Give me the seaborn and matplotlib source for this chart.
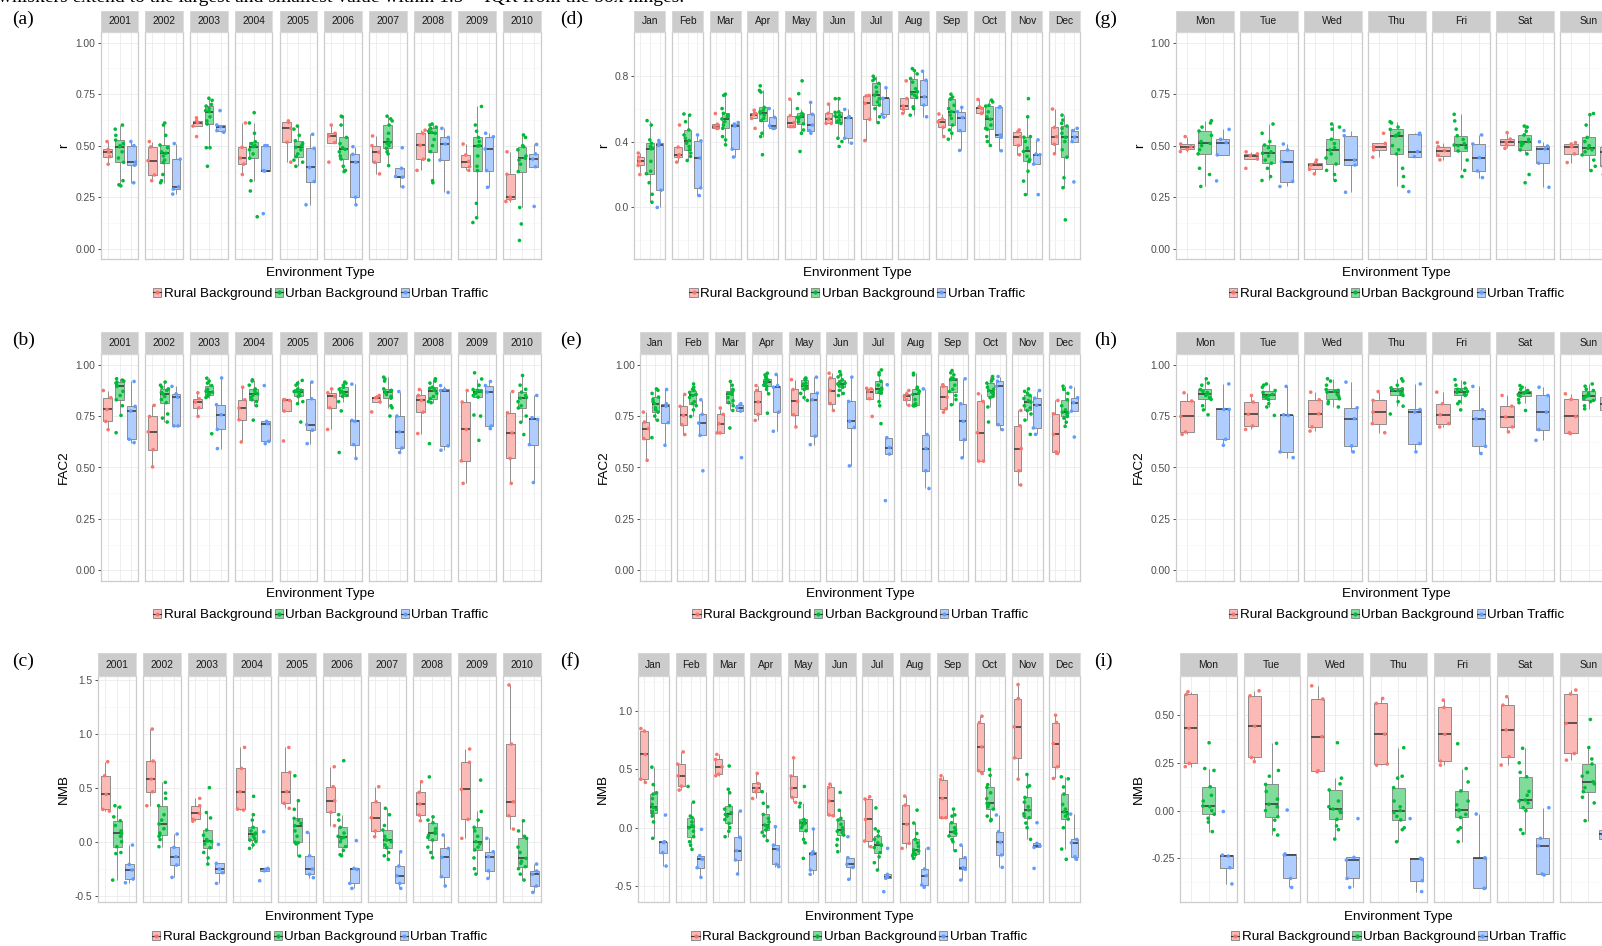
import numpy as np
import pandas as pd
import matplotlib
matplotlib.use("Agg")
import matplotlib.pyplot as plt
from matplotlib.patches import Patch
from matplotlib.lines import Line2D
from matplotlib.legend_handler import HandlerTuple
import seaborn as sns

plt.rcParams["font.family"] = ["Liberation Sans", "DejaVu Sans"]

W, H = 1602, 946

ENV = ["Rural Background", "Urban Background", "Urban Traffic"]
POINT_COLORS = ["#F8766D", "#00BA38", "#619CFF"]
FILL_COLORS = ["#FBBAB6", "#80DC9B", "#B0CDFF"]

YEARS = [str(y) for y in range(2001, 2011)]
MONTHS = ["Jan", "Feb", "Mar", "Apr", "May", "Jun",
          "Jul", "Aug", "Sep", "Oct", "Nov", "Dec"]
DAYS = ["Mon", "Tue", "Wed", "Thu", "Fri", "Sat", "Sun"]

CAPTION = "whiskers extend to the largest and smallest value within 1.5 \u00d7 IQR from the box hinges."

# ---------------- correlation coefficient r, by year ----------------
r_year_rural = [
    [0.41, 0.447, 0.468, 0.482, 0.52], [0.33, 0.358, 0.427, 0.494, 0.52],
    [0.544, 0.595, 0.611, 0.621, 0.635], [0.36, 0.411, 0.44, 0.492, 0.61],
    [0.42, 0.516, 0.584, 0.613, 0.62], [0.42, 0.515, 0.547, 0.56, 0.60],
    [0.363, 0.419, 0.468, 0.50, 0.547], [0.38, 0.434, 0.502, 0.56, 0.575],
    [0.38, 0.398, 0.423, 0.455, 0.508], [0.229, 0.24, 0.25, 0.361, 0.47],
]
r_year_urban = [
    [0.305, 0.31, 0.33, 0.419, 0.44, 0.47, 0.495, 0.50, 0.51, 0.527, 0.55, 0.58, 0.60],
    [0.32, 0.33, 0.36, 0.418, 0.43, 0.45, 0.463, 0.47, 0.49, 0.503, 0.55, 0.60, 0.61],
    [0.40, 0.49, 0.49, 0.605, 0.62, 0.64, 0.665, 0.67, 0.68, 0.692, 0.70, 0.72, 0.73],
    [0.155, 0.28, 0.33, 0.439, 0.46, 0.48, 0.495, 0.50, 0.51, 0.519, 0.56, 0.61, 0.66],
    [0.40, 0.42, 0.43, 0.447, 0.46, 0.48, 0.492, 0.50, 0.51, 0.524, 0.55, 0.58, 0.595],
    [0.374, 0.38, 0.40, 0.435, 0.45, 0.47, 0.482, 0.49, 0.51, 0.54, 0.60, 0.64, 0.643],
    [0.403, 0.46, 0.47, 0.487, 0.50, 0.51, 0.516, 0.53, 0.56, 0.60, 0.62, 0.63, 0.643],
    [0.32, 0.33, 0.43, 0.471, 0.50, 0.53, 0.56, 0.565, 0.57, 0.584, 0.59, 0.60, 0.605],
    [0.127, 0.15, 0.22, 0.379, 0.40, 0.45, 0.498, 0.50, 0.52, 0.54, 0.57, 0.60, 0.69],
    [0.04, 0.12, 0.20, 0.374, 0.41, 0.43, 0.439, 0.45, 0.48, 0.495, 0.50, 0.54, 0.552],
]
r_year_traffic = [
    [0.32, 0.405, 0.42, 0.50, 0.52], [0.265, 0.289, 0.30, 0.434, 0.51],
    [0.565, 0.573, 0.592, 0.60, 0.67], [0.17, 0.377, 0.379, 0.50, 0.50],
    [0.213, 0.326, 0.394, 0.487, 0.555], [0.213, 0.25, 0.419, 0.458, 0.495],
    [0.30, 0.347, 0.35, 0.39, 0.49], [0.273, 0.43, 0.508, 0.54, 0.584],
    [0.298, 0.379, 0.484, 0.543, 0.56], [0.205, 0.398, 0.435, 0.46, 0.506],
]

# ---------------- FAC2, by year ----------------
fac2_year_rural = [
    [0.684, 0.724, 0.782, 0.839, 0.874], [0.503, 0.587, 0.673, 0.748, 0.802],
    [0.748, 0.79, 0.818, 0.834, 0.863], [0.624, 0.732, 0.789, 0.829, 0.89],
    [0.629, 0.774, 0.826, 0.829, 0.83], [0.685, 0.79, 0.845, 0.863, 0.882],
    [0.77, 0.818, 0.839, 0.842, 0.85], [0.665, 0.769, 0.826, 0.85, 0.879],
    [0.423, 0.532, 0.685, 0.818, 0.874], [0.423, 0.544, 0.668, 0.766, 0.869],
]
fac2_year_urban = [
    [0.669, 0.753, 0.80, 0.829, 0.85, 0.87, 0.894, 0.90, 0.91, 0.915, 0.92, 0.925, 0.931],
    [0.721, 0.74, 0.76, 0.815, 0.83, 0.845, 0.858, 0.865, 0.875, 0.882, 0.89, 0.90, 0.915],
    [0.664, 0.84, 0.845, 0.85, 0.855, 0.86, 0.866, 0.87, 0.88, 0.898, 0.91, 0.92, 0.934],
    [0.73, 0.80, 0.82, 0.829, 0.84, 0.85, 0.858, 0.865, 0.875, 0.882, 0.90, 0.92, 0.926],
    [0.721, 0.81, 0.82, 0.845, 0.85, 0.86, 0.869, 0.87, 0.875, 0.882, 0.90, 0.91, 0.923],
    [0.573, 0.775, 0.82, 0.845, 0.85, 0.86, 0.866, 0.87, 0.88, 0.89, 0.90, 0.91, 0.915],
    [0.75, 0.79, 0.80, 0.837, 0.845, 0.855, 0.866, 0.87, 0.875, 0.882, 0.92, 0.93, 0.939],
    [0.616, 0.815, 0.82, 0.834, 0.845, 0.86, 0.874, 0.88, 0.885, 0.89, 0.91, 0.92, 0.931],
    [0.632, 0.75, 0.755, 0.842, 0.85, 0.86, 0.866, 0.87, 0.875, 0.879, 0.90, 0.93, 0.96],
    [0.66, 0.72, 0.75, 0.789, 0.80, 0.82, 0.837, 0.84, 0.85, 0.866, 0.88, 0.90, 0.947],
]
fac2_year_traffic = [
    [0.621, 0.637, 0.774, 0.797, 0.918], [0.702, 0.702, 0.842, 0.858, 0.894],
    [0.592, 0.685, 0.756, 0.805, 0.935], [0.616, 0.627, 0.713, 0.724, 0.898],
    [0.616, 0.681, 0.708, 0.834, 0.915], [0.544, 0.611, 0.724, 0.729, 0.905],
    [0.573, 0.595, 0.673, 0.75, 0.869], [0.584, 0.605, 0.874, 0.879, 0.898],
    [0.689, 0.702, 0.866, 0.898, 0.918], [0.427, 0.611, 0.734, 0.742, 0.85],
]

# ---------------- NMB, by year ----------------
nmb_year_rural = [
    [0.284, 0.299, 0.438, 0.611, 0.741], [0.333, 0.463, 0.58, 0.747, 1.043],
    [0.19, 0.207, 0.262, 0.333, 0.401], [0.293, 0.302, 0.463, 0.679, 0.873],
    [0.309, 0.355, 0.463, 0.642, 0.873], [0.148, 0.272, 0.38, 0.509, 0.694],
    [0.046, 0.099, 0.222, 0.37, 0.509], [0.194, 0.247, 0.349, 0.457, 0.556],
    [0.031, 0.207, 0.485, 0.735, 0.858], [0.117, 0.241, 0.37, 0.904, 1.451],
]
nmb_year_urban = [
    [-0.355, -0.11, -0.10, -0.046, 0.0, 0.05, 0.077, 0.10, 0.15, 0.194, 0.23, 0.32, 0.333],
    [-0.046, 0.02, 0.05, 0.062, 0.08, 0.12, 0.164, 0.20, 0.25, 0.333, 0.40, 0.45, 0.549],
    [-0.207, -0.15, -0.10, -0.056, -0.02, 0.0, 0.006, 0.02, 0.06, 0.108, 0.22, 0.27, 0.50],
    [-0.062, -0.03, 0.0, 0.015, 0.03, 0.05, 0.071, 0.08, 0.10, 0.133, 0.20, 0.25, 0.42],
    [-0.133, -0.02, -0.01, -0.006, 0.05, 0.10, 0.148, 0.17, 0.20, 0.216, 0.30, 0.38, 0.61],
    [-0.13, -0.12, -0.08, -0.046, 0.0, 0.03, 0.04, 0.05, 0.08, 0.133, 0.20, 0.25, 0.75],
    [-0.164, -0.13, -0.10, -0.056, -0.03, 0.0, 0.015, 0.02, 0.05, 0.108, 0.15, 0.25, 0.309],
    [-0.148, -0.10, -0.05, 0.015, 0.04, 0.06, 0.077, 0.09, 0.12, 0.176, 0.20, 0.23, 0.60],
    [-0.30, -0.25, -0.15, -0.077, -0.05, -0.02, 0.0, 0.05, 0.10, 0.133, 0.20, 0.28, 0.57],
    [-0.355, -0.30, -0.25, -0.231, -0.20, -0.18, -0.154, -0.10, -0.05, 0.031, 0.05, 0.10, 0.194],
]
nmb_year_traffic = [
    [-0.38, -0.346, -0.262, -0.21, -0.031], [-0.33, -0.216, -0.139, -0.052, 0.071],
    [-0.386, -0.287, -0.253, -0.201, -0.025], [-0.361, -0.269, -0.256, -0.247, 0.093],
    [-0.333, -0.302, -0.253, -0.13, 0.086], [-0.432, -0.386, -0.256, -0.247, 0.01],
    [-0.432, -0.386, -0.315, -0.225, -0.093], [-0.41, -0.324, -0.145, -0.062, 0.062],
    [-0.34, -0.269, -0.139, -0.093, 0.031], [-0.469, -0.41, -0.302, -0.272, -0.207],
]

# ---------------- r, by month ----------------
r_month_rural = [
    [0.20, 0.255, 0.28, 0.306, 0.33], [0.275, 0.306, 0.32, 0.366, 0.50],
    [0.48, 0.48, 0.49, 0.505, 0.57], [0.48, 0.54, 0.563, 0.571, 0.59],
    [0.49, 0.49, 0.515, 0.557, 0.657], [0.51, 0.51, 0.537, 0.571, 0.627],
    [0.406, 0.535, 0.631, 0.677, 0.68], [0.571, 0.595, 0.615, 0.661, 0.768],
    [0.43, 0.486, 0.52, 0.537, 0.567], [0.571, 0.571, 0.601, 0.611, 0.655],
    [0.32, 0.376, 0.43, 0.46, 0.47], [0.326, 0.384, 0.43, 0.486, 0.597],
]
r_month_urban = [
    [0.032, 0.08, 0.15, 0.205, 0.22, 0.28, 0.356, 0.36, 0.37, 0.39, 0.41, 0.50, 0.527],
    [0.285, 0.31, 0.33, 0.35, 0.37, 0.39, 0.406, 0.42, 0.44, 0.47, 0.52, 0.56, 0.567],
    [0.38, 0.41, 0.43, 0.48, 0.50, 0.52, 0.537, 0.55, 0.56, 0.571, 0.60, 0.68, 0.687],
    [0.32, 0.43, 0.45, 0.527, 0.54, 0.56, 0.571, 0.58, 0.59, 0.607, 0.70, 0.71, 0.738],
    [0.34, 0.45, 0.47, 0.507, 0.52, 0.535, 0.547, 0.55, 0.56, 0.571, 0.60, 0.69, 0.768],
    [0.37, 0.40, 0.42, 0.51, 0.52, 0.53, 0.55, 0.555, 0.56, 0.577, 0.58, 0.66, 0.66],
    [0.515, 0.55, 0.60, 0.621, 0.64, 0.66, 0.681, 0.70, 0.73, 0.752, 0.77, 0.78, 0.796],
    [0.56, 0.60, 0.61, 0.667, 0.68, 0.69, 0.702, 0.72, 0.76, 0.782, 0.81, 0.83, 0.842],
    [0.414, 0.45, 0.47, 0.50, 0.54, 0.56, 0.581, 0.60, 0.62, 0.657, 0.66, 0.67, 0.687],
    [0.376, 0.40, 0.43, 0.474, 0.48, 0.50, 0.535, 0.55, 0.58, 0.615, 0.62, 0.64, 0.651],
    [0.078, 0.16, 0.22, 0.279, 0.29, 0.31, 0.34, 0.36, 0.40, 0.426, 0.43, 0.55, 0.66],
    [-0.075, 0.12, 0.18, 0.305, 0.35, 0.40, 0.426, 0.45, 0.48, 0.494, 0.51, 0.53, 0.56],
]
r_month_traffic = [
    [0.0, 0.105, 0.376, 0.39, 0.406], [0.072, 0.119, 0.30, 0.404, 0.44],
    [0.306, 0.354, 0.494, 0.506, 0.515], [0.48, 0.48, 0.496, 0.547, 0.60],
    [0.45, 0.466, 0.50, 0.565, 0.637], [0.39, 0.42, 0.545, 0.55, 0.595],
    [0.547, 0.565, 0.661, 0.661, 0.726], [0.55, 0.621, 0.671, 0.772, 0.826],
    [0.346, 0.466, 0.545, 0.581, 0.607], [0.344, 0.426, 0.44, 0.607, 0.611],
    [0.078, 0.263, 0.32, 0.324, 0.41], [0.155, 0.40, 0.426, 0.466, 0.48],
]

# ---------------- FAC2, by month ----------------
fac2_month_rural = [
    [0.535, 0.64, 0.689, 0.721, 0.769], [0.66, 0.708, 0.753, 0.797, 0.855],
    [0.668, 0.668, 0.713, 0.758, 0.789], [0.729, 0.758, 0.818, 0.874, 0.898],
    [0.697, 0.756, 0.821, 0.879, 0.927], [0.777, 0.81, 0.874, 0.935, 0.958],
    [0.748, 0.834, 0.869, 0.882, 0.885], [0.802, 0.829, 0.845, 0.858, 0.874],
    [0.769, 0.785, 0.842, 0.894, 0.902], [0.531, 0.531, 0.669, 0.821, 0.858],
    [0.415, 0.484, 0.592, 0.702, 0.777], [0.568, 0.576, 0.661, 0.761, 0.826],
]
fac2_month_urban = [
    [0.645, 0.73, 0.75, 0.769, 0.78, 0.79, 0.81, 0.82, 0.83, 0.842, 0.86, 0.875, 0.882],
    [0.748, 0.78, 0.80, 0.81, 0.82, 0.84, 0.85, 0.855, 0.865, 0.874, 0.88, 0.89, 0.906],
    [0.692, 0.777, 0.80, 0.815, 0.825, 0.84, 0.855, 0.86, 0.865, 0.874, 0.88, 0.90, 0.918],
    [0.764, 0.858, 0.88, 0.894, 0.90, 0.91, 0.915, 0.92, 0.925, 0.931, 0.94, 0.95, 0.958],
    [0.826, 0.84, 0.86, 0.879, 0.885, 0.89, 0.898, 0.905, 0.91, 0.926, 0.93, 0.932, 0.935],
    [0.85, 0.86, 0.875, 0.89, 0.895, 0.90, 0.906, 0.91, 0.915, 0.926, 0.94, 0.95, 0.966],
    [0.713, 0.80, 0.82, 0.861, 0.865, 0.87, 0.879, 0.885, 0.90, 0.919, 0.95, 0.96, 0.974],
    [0.80, 0.80, 0.802, 0.802, 0.81, 0.83, 0.855, 0.86, 0.87, 0.882, 0.89, 0.95, 0.958],
    [0.805, 0.83, 0.85, 0.869, 0.88, 0.90, 0.927, 0.93, 0.932, 0.935, 0.95, 0.96, 0.971],
    [0.721, 0.794, 0.84, 0.845, 0.86, 0.865, 0.874, 0.88, 0.89, 0.91, 0.92, 0.93, 0.942],
    [0.661, 0.73, 0.76, 0.777, 0.79, 0.80, 0.818, 0.825, 0.835, 0.85, 0.86, 0.87, 0.882],
    [0.70, 0.72, 0.74, 0.748, 0.76, 0.765, 0.769, 0.78, 0.80, 0.829, 0.86, 0.88, 0.895],
]
fac2_month_traffic = [
    [0.608, 0.718, 0.798, 0.81, 0.879], [0.484, 0.656, 0.716, 0.758, 0.829],
    [0.548, 0.774, 0.79, 0.805, 0.81], [0.676, 0.769, 0.89, 0.898, 0.952],
    [0.611, 0.652, 0.829, 0.861, 0.939], [0.508, 0.694, 0.724, 0.821, 0.939],
    [0.339, 0.565, 0.597, 0.645, 0.902], [0.398, 0.484, 0.592, 0.66, 0.882],
    [0.547, 0.635, 0.724, 0.81, 0.931], [0.684, 0.708, 0.894, 0.919, 0.942],
    [0.661, 0.692, 0.802, 0.837, 0.874], [0.648, 0.774, 0.815, 0.839, 0.89],
]

# ---------------- NMB, by month ----------------
nmb_month_rural = [
    [0.389, 0.417, 0.629, 0.829, 0.851], [0.323, 0.357, 0.446, 0.546, 0.651],
    [0.446, 0.46, 0.523, 0.586, 0.629], [0.251, 0.309, 0.337, 0.38, 0.466],
    [0.217, 0.26, 0.337, 0.443, 0.60], [0.103, 0.109, 0.229, 0.346, 0.374],
    [-0.163, -0.114, 0.071, 0.246, 0.266], [-0.177, -0.134, 0.029, 0.194, 0.271],
    [0.086, 0.086, 0.251, 0.414, 0.446], [0.466, 0.489, 0.694, 0.903, 0.957],
    [0.417, 0.60, 0.866, 1.109, 1.229], [0.423, 0.523, 0.723, 0.903, 0.966],
]
nmb_month_urban = [
    [-0.091, 0.05, 0.10, 0.123, 0.14, 0.16, 0.174, 0.20, 0.25, 0.289, 0.30, 0.37, 0.52],
    [-0.186, -0.15, -0.12, -0.077, -0.03, 0.0, 0.009, 0.02, 0.05, 0.086, 0.10, 0.22, 0.354],
    [-0.077, -0.03, 0.0, 0.037, 0.07, 0.10, 0.114, 0.13, 0.16, 0.189, 0.30, 0.33, 0.53],
    [-0.111, -0.07, -0.04, -0.02, 0.0, 0.015, 0.023, 0.05, 0.08, 0.114, 0.18, 0.21, 0.309],
    [-0.263, -0.129, -0.10, -0.026, 0.0, 0.02, 0.037, 0.045, 0.06, 0.071, 0.18, 0.21, 0.354],
    [-0.206, -0.15, -0.10, -0.063, -0.04, -0.03, -0.02, 0.0, 0.03, 0.066, 0.08, 0.15, 0.303],
    [-0.363, -0.30, -0.25, -0.214, -0.17, -0.15, -0.149, -0.13, -0.10, -0.071, -0.03, -0.01, 0.17],
    [-0.263, -0.24, -0.23, -0.226, -0.21, -0.20, -0.191, -0.16, -0.13, -0.10, -0.05, 0.04, 0.151],
    [-0.197, -0.12, -0.10, -0.071, -0.05, -0.04, -0.034, -0.02, 0.0, 0.043, 0.10, 0.11, 0.16],
    [0.06, 0.07, 0.10, 0.16, 0.18, 0.20, 0.209, 0.25, 0.30, 0.346, 0.37, 0.45, 0.50],
    [-0.10, 0.0, 0.04, 0.086, 0.10, 0.12, 0.151, 0.18, 0.22, 0.26, 0.35, 0.36, 0.457],
    [-0.271, -0.183, 0.0, 0.074, 0.10, 0.12, 0.137, 0.16, 0.20, 0.289, 0.35, 0.42, 0.437],
]
nmb_month_traffic = [
    [-0.329, -0.214, -0.126, -0.12, 0.109], [-0.426, -0.343, -0.271, -0.24, -0.014],
    [-0.397, -0.277, -0.197, -0.083, 0.143], [-0.334, -0.314, -0.186, -0.149, 0.009],
    [-0.40, -0.363, -0.229, -0.206, -0.011], [-0.443, -0.34, -0.314, -0.257, -0.077],
    [-0.549, -0.434, -0.42, -0.40, -0.177], [-0.511, -0.491, -0.411, -0.354, -0.177],
    [-0.449, -0.357, -0.343, -0.257, -0.149], [-0.34, -0.234, -0.126, -0.034, 0.109],
    [-0.349, -0.169, -0.157, -0.134, 0.043], [-0.271, -0.249, -0.129, -0.10, 0.117],
]

# ---------------- r, by day of week ----------------
r_day_rural = [
    [0.471, 0.482, 0.495, 0.508, 0.544], [0.39, 0.435, 0.452, 0.46, 0.47],
    [0.363, 0.385, 0.406, 0.418, 0.43], [0.444, 0.479, 0.495, 0.511, 0.56],
    [0.431, 0.452, 0.476, 0.495, 0.515], [0.487, 0.503, 0.516, 0.532, 0.563],
    [0.418, 0.46, 0.495, 0.508, 0.515],
]
r_day_urban = [
    [0.302, 0.36, 0.39, 0.46, 0.48, 0.50, 0.511, 0.52, 0.55, 0.571, 0.59, 0.61, 0.621],
    [0.331, 0.35, 0.39, 0.415, 0.43, 0.45, 0.463, 0.47, 0.49, 0.503, 0.52, 0.56, 0.605],
    [0.331, 0.36, 0.38, 0.411, 0.44, 0.46, 0.479, 0.49, 0.51, 0.531, 0.58, 0.59, 0.605],
    [0.302, 0.35, 0.39, 0.46, 0.48, 0.50, 0.547, 0.55, 0.56, 0.579, 0.59, 0.61, 0.616],
    [0.35, 0.38, 0.43, 0.474, 0.49, 0.50, 0.503, 0.51, 0.53, 0.548, 0.58, 0.62, 0.652],
    [0.32, 0.36, 0.46, 0.479, 0.50, 0.51, 0.516, 0.52, 0.53, 0.552, 0.57, 0.59, 0.595],
    [0.379, 0.40, 0.43, 0.455, 0.47, 0.48, 0.487, 0.50, 0.52, 0.54, 0.60, 0.65, 0.656],
]
r_day_traffic = [
    [0.329, 0.455, 0.515, 0.531, 0.579], [0.302, 0.326, 0.423, 0.479, 0.508],
    [0.274, 0.406, 0.43, 0.548, 0.573], [0.277, 0.447, 0.471, 0.555, 0.56],
    [0.345, 0.377, 0.442, 0.508, 0.552], [0.298, 0.415, 0.484, 0.498, 0.519],
    [0.36, 0.40, 0.47, 0.495, 0.50],
]

# ---------------- FAC2, by day of week ----------------
fac2_day_rural = [
    [0.661, 0.673, 0.748, 0.823, 0.863], [0.685, 0.702, 0.758, 0.818, 0.85],
    [0.677, 0.697, 0.761, 0.829, 0.866], [0.669, 0.713, 0.769, 0.826, 0.869],
    [0.697, 0.713, 0.756, 0.81, 0.866], [0.673, 0.697, 0.745, 0.798, 0.85],
    [0.665, 0.669, 0.748, 0.831, 0.858],
]
fac2_day_urban = [
    [0.756, 0.78, 0.80, 0.831, 0.84, 0.85, 0.858, 0.865, 0.87, 0.879, 0.90, 0.91, 0.931],
    [0.753, 0.794, 0.81, 0.831, 0.84, 0.845, 0.85, 0.855, 0.865, 0.874, 0.89, 0.90, 0.906],
    [0.794, 0.81, 0.82, 0.834, 0.845, 0.855, 0.866, 0.87, 0.875, 0.879, 0.90, 0.92, 0.931],
    [0.76, 0.798, 0.82, 0.85, 0.855, 0.865, 0.874, 0.878, 0.882, 0.887, 0.90, 0.92, 0.931],
    [0.78, 0.81, 0.82, 0.85, 0.855, 0.865, 0.869, 0.875, 0.88, 0.885, 0.90, 0.91, 0.927],
    [0.777, 0.815, 0.83, 0.847, 0.85, 0.855, 0.861, 0.865, 0.87, 0.874, 0.88, 0.89, 0.898],
    [0.785, 0.80, 0.82, 0.826, 0.835, 0.84, 0.847, 0.85, 0.86, 0.874, 0.88, 0.895, 0.906],
]
fac2_day_traffic = [
    [0.608, 0.637, 0.782, 0.782, 0.906], [0.548, 0.576, 0.753, 0.756, 0.894],
    [0.576, 0.605, 0.737, 0.79, 0.915], [0.576, 0.616, 0.769, 0.782, 0.906],
    [0.568, 0.603, 0.737, 0.781, 0.894], [0.632, 0.684, 0.769, 0.85, 0.89],
    [0.75, 0.777, 0.81, 0.842, 0.86],
]

# ---------------- NMB, by day of week ----------------
nmb_day_rural = [
    [0.23, 0.247, 0.43, 0.608, 0.622], [0.256, 0.278, 0.442, 0.601, 0.627],
    [0.203, 0.209, 0.387, 0.584, 0.653], [0.238, 0.244, 0.40, 0.561, 0.587],
    [0.238, 0.259, 0.399, 0.54, 0.578], [0.238, 0.282, 0.422, 0.552, 0.596],
    [0.264, 0.299, 0.456, 0.61, 0.631],
]
nmb_day_urban = [
    [-0.11, -0.06, -0.04, -0.019, 0.0, 0.02, 0.024, 0.05, 0.08, 0.125, 0.21, 0.22, 0.355],
    [-0.128, -0.10, -0.05, -0.032, 0.0, 0.02, 0.033, 0.06, 0.10, 0.137, 0.18, 0.21, 0.352],
    [-0.149, -0.10, -0.08, -0.046, -0.01, 0.0, 0.008, 0.02, 0.05, 0.108, 0.14, 0.17, 0.355],
    [-0.163, -0.10, -0.09, -0.049, -0.03, -0.01, 0.0, 0.02, 0.05, 0.12, 0.17, 0.18, 0.329],
    [-0.163, -0.10, -0.09, -0.036, -0.02, 0.0, 0.003, 0.03, 0.05, 0.103, 0.15, 0.22, 0.35],
    [-0.12, -0.10, 0.0, 0.015, 0.04, 0.05, 0.055, 0.08, 0.10, 0.177, 0.20, 0.25, 0.326],
    [-0.053, 0.04, 0.07, 0.099, 0.12, 0.14, 0.151, 0.18, 0.20, 0.244, 0.27, 0.33, 0.477],
]
nmb_day_traffic = [
    [-0.384, -0.299, -0.238, -0.233, -0.005], [-0.402, -0.355, -0.233, -0.227, 0.003],
    [-0.402, -0.355, -0.259, -0.245, -0.042], [-0.424, -0.367, -0.255, -0.25, -0.042],
    [-0.407, -0.407, -0.25, -0.247, -0.018], [-0.337, -0.332, -0.184, -0.145, 0.015],
    [-0.20, -0.15, -0.12, -0.10, 0.08],
]

# ---------------- layout (pixel units of the 1602 x 946 canvas) ----------------
ROWS = [
    dict(strip_top=10.7, panel_top=32.3, panel_bottom=259.0, title_y=273.0, legend_y=294.0, tag_y=19.0),
    dict(strip_top=332.3, panel_top=354.3, panel_bottom=580.7, title_y=594.5, legend_y=615.0, tag_y=340.0),
    dict(strip_top=653.3, panel_top=675.7, panel_bottom=902.3, title_y=916.7, legend_y=937.0, tag_y=661.0),
]

UNIT_TICKS = ([0, 0.25, 0.5, 0.75, 1.0], ["0.00", "0.25", "0.50", "0.75", "1.00"])

PANELS = [
    dict(tag="(a)", ylabel="r", facets=YEARS, data=(r_year_rural, r_year_urban, r_year_traffic),
         row=0, x0=100.7, pitch=44.72, width=37.6, tag_x=12.5, ylab_x=64.3,
         ylim=(-0.05, 1.05), ticks=UNIT_TICKS),
    dict(tag="(b)", ylabel="FAC2", facets=YEARS, data=(fac2_year_rural, fac2_year_urban, fac2_year_traffic),
         row=1, x0=100.7, pitch=44.72, width=37.6, tag_x=12.5, ylab_x=64.3,
         ylim=(-0.05, 1.05), ticks=UNIT_TICKS),
    dict(tag="(c)", ylabel="NMB", facets=YEARS, data=(nmb_year_rural, nmb_year_urban, nmb_year_traffic),
         row=2, x0=98.2, pitch=45.0, width=38.0, tag_x=12.5, ylab_x=63.6,
         ylim=(-0.561, 1.537),
         ticks=([-0.5, 0.0, 0.5, 1.0, 1.5], ["-0.5", "0.0", "0.5", "1.0", "1.5"])),
    dict(tag="(d)", ylabel="r", facets=MONTHS, data=(r_month_rural, r_month_urban, r_month_traffic),
         row=0, x0=634.4, pitch=37.69, width=31.0, tag_x=560, ylab_x=603.7,
         ylim=(-0.3125, 1.0625), ticks=([0.0, 0.4, 0.8], ["0.0", "0.4", "0.8"])),
    dict(tag="(e)", ylabel="FAC2", facets=MONTHS, data=(fac2_month_rural, fac2_month_urban, fac2_month_traffic),
         row=1, x0=640.2, pitch=37.2, width=30.5, tag_x=560, ylab_x=603.7,
         ylim=(-0.05, 1.05), ticks=UNIT_TICKS),
    dict(tag="(f)", ylabel="NMB", facets=MONTHS, data=(nmb_month_rural, nmb_month_urban, nmb_month_traffic),
         row=2, x0=638.2, pitch=37.38, width=30.6, tag_x=560, ylab_x=603.0,
         ylim=(-0.64, 1.305), ticks=([-0.5, 0.0, 0.5, 1.0], ["-0.5", "0.0", "0.5", "1.0"])),
    dict(tag="(g)", ylabel="r", facets=DAYS, data=(r_day_rural, r_day_urban, r_day_traffic),
         row=0, x0=1176.0, pitch=64.0, width=57.5, tag_x=1094, ylab_x=1140,
         ylim=(-0.05, 1.05), ticks=UNIT_TICKS),
    dict(tag="(h)", ylabel="FAC2", facets=DAYS, data=(fac2_day_rural, fac2_day_urban, fac2_day_traffic),
         row=1, x0=1176.0, pitch=64.0, width=57.5, tag_x=1094, ylab_x=1139,
         ylim=(-0.05, 1.05), ticks=UNIT_TICKS),
    dict(tag="(i)", ylabel="NMB", facets=DAYS, data=(nmb_day_rural, nmb_day_urban, nmb_day_traffic),
         row=2, x0=1180.3, pitch=63.33, width=56.4, tag_x=1094, ylab_x=1139,
         ylim=(-0.48, 0.706),
         ticks=([-0.25, 0.0, 0.25, 0.5], ["-0.25", "0.00", "0.25", "0.50"])),
]

GRID_MAJOR = "#EBEBEB"
GRID_MINOR = "#F5F5F5"
BORDER = "#CCCCCC"
STRIP_FILL = "#CCCCCC"
BOX_LINE = "#7F7F7F"
SMALL = 7.4
LARGE = 9.7


def rect(left, top, w, h):
    return [left / W, 1 - (top + h) / H, w / W, h / H]


fig = plt.figure(figsize=(W / 100, H / 100), dpi=100)

for p_idx, panel in enumerate(PANELS):
    row = ROWS[panel["row"]]
    rural, urban, traffic = panel["data"]
    ticks, labels = panel["ticks"]
    step = ticks[1] - ticks[0]
    lo, hi = panel["ylim"]
    minor = [(a + b) / 2 for a, b in zip(ticks[:-1], ticks[1:])]
    if ticks[0] - step / 2 > lo:
        minor.insert(0, ticks[0] - step / 2)
    if ticks[-1] + step / 2 < hi:
        minor.append(ticks[-1] + step / 2)
    ph = row["panel_bottom"] - row["panel_top"]

    for i, name in enumerate(panel["facets"]):
        left = panel["x0"] + i * panel["pitch"]
        groups = [rural[i], urban[i], traffic[i]]
        df = pd.DataFrame({
            "env": np.repeat(ENV, [len(g) for g in groups]),
            "value": np.concatenate([np.asarray(g, float) for g in groups]),
        })

        ax = fig.add_axes(rect(left, row["panel_top"], panel["width"], ph))
        ax.set_facecolor("white")
        sns.boxplot(data=df, x="env", y="value", hue="env", order=ENV, hue_order=ENV,
                    palette=FILL_COLORS, saturation=1, width=0.75, dodge=False,
                    linewidth=0.6, linecolor=BOX_LINE, showfliers=False, legend=False,
                    medianprops=dict(color="#333333", linewidth=1.1),
                    capprops=dict(linewidth=0), ax=ax)
        np.random.seed(100 * p_idx + i)
        sns.stripplot(data=df, x="env", y="value", hue="env", order=ENV, hue_order=ENV,
                      palette=POINT_COLORS, size=2.6, jitter=0.38, dodge=False,
                      linewidth=0, legend=False, zorder=4, ax=ax)

        ax.set_xlim(-0.6, 2.6)
        ax.set_ylim(lo, hi)
        ax.set_xlabel("")
        ax.set_ylabel("")
        ax.set_xticks([0, 1, 2])
        ax.set_xticklabels([])
        ax.tick_params(axis="x", length=0)
        ax.set_yticks(ticks)
        ax.set_yticks(minor, minor=True)
        ax.grid(which="major", axis="both", color=GRID_MAJOR, linewidth=0.6)
        ax.grid(which="minor", axis="y", color=GRID_MINOR, linewidth=0.4)
        ax.set_axisbelow(True)
        ax.tick_params(axis="y", which="minor", length=0)
        if i == 0:
            ax.set_yticklabels(labels)
            ax.tick_params(axis="y", which="major", length=2.2, width=0.6, color="#333333",
                           pad=1.8, labelsize=SMALL, labelcolor="#4D4D4D")
        else:
            ax.tick_params(axis="y", which="major", length=0, labelleft=False)
        for s in ax.spines.values():
            s.set_color(BORDER)
            s.set_linewidth(0.9)

        sax = fig.add_axes(rect(left, row["strip_top"], panel["width"],
                                row["panel_top"] - row["strip_top"]))
        sax.set_facecolor(STRIP_FILL)
        sax.set_xticks([])
        sax.set_yticks([])
        for s in sax.spines.values():
            s.set_color("#D9D9D9")
            s.set_linewidth(0.6)
        sax.text(0.5, 0.5, name, ha="center", va="center", fontsize=SMALL,
                 color="#1A1A1A", transform=sax.transAxes)

    n = len(panel["facets"])
    x_first = panel["x0"]
    x_last = panel["x0"] + (n - 1) * panel["pitch"] + panel["width"]
    cx = (x_first + x_last) / 2

    fig.text(panel["ylab_x"] / W, 1 - (row["panel_top"] + ph / 2) / H, panel["ylabel"],
             rotation=90, ha="center", va="center", fontsize=LARGE, color="black")
    fig.text(cx / W, 1 - row["title_y"] / H, "Environment Type",
             ha="center", va="center", fontsize=LARGE, color="black")
    fig.text(panel["tag_x"] / W, 1 - row["tag_y"] / H, panel["tag"],
             ha="left", va="center", fontsize=14, family=["Liberation Serif", "DejaVu Serif"])

    handles = []
    for fc, pc in zip(FILL_COLORS, POINT_COLORS):
        handles.append((Patch(facecolor=fc, edgecolor=BOX_LINE, linewidth=0.6),
                        Line2D([], [], color="#333333", linewidth=0.8),
                        Line2D([], [], marker="o", markersize=2, color=pc, linestyle="none")))
    fig.legend(handles, ENV, loc="center", bbox_to_anchor=(cx / W, 1 - row["legend_y"] / H),
               ncol=3, frameon=False, fontsize=LARGE, handlelength=0.62, handleheight=0.62,
               handletextpad=0.18, columnspacing=0.18, borderpad=0, borderaxespad=0,
               handler_map={tuple: HandlerTuple(ndivide=1)})

# caption line running off the top edge of the canvas (only its lower edge shows)
fig.text(684 / W, 1 - 2.5 / H, CAPTION, ha="right", va="baseline", fontsize=14,
         family=["Liberation Serif", "DejaVu Serif"], color="black")

fig.savefig("out.png", dpi=100)
